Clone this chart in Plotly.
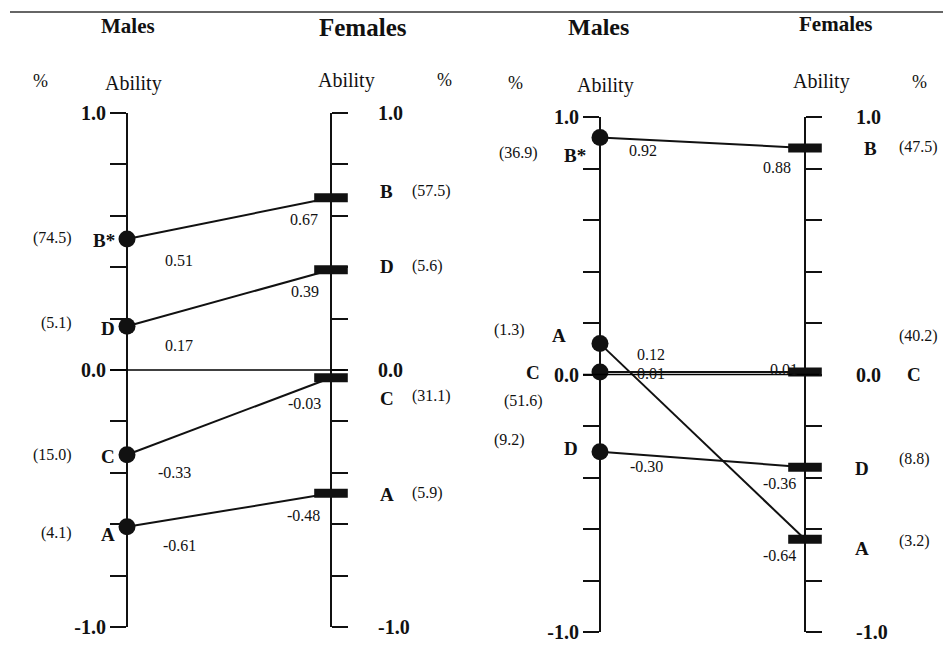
import plotly.graph_objects as go

W, H = 943, 647

# ---------------- data ----------------
groups = ["A", "B", "C", "D"]
starred = "B"

# Panel 1 (left)
p1_male_ability = [-0.61, 0.51, -0.33, 0.17]
p1_male_pct = [4.1, 74.5, 15.0, 5.1]
p1_female_ability = [-0.48, 0.67, -0.03, 0.39]
p1_female_pct = [5.9, 57.5, 31.1, 5.6]

# Panel 2 (right)
p2_male_ability = [0.12, 0.92, 0.01, -0.30]
p2_male_pct = [1.3, 36.9, 51.6, 9.2]
p2_female_ability = [-0.64, 0.88, 0.01, -0.36]
p2_female_pct = [3.2, 47.5, 40.2, 8.8]

tick_vals = [-1.0, -0.8, -0.6, -0.4, -0.2, 0.0, 0.2, 0.4, 0.6, 0.8, 1.0]
tick_labels = {-1.0: "-1.0", 0.0: "0.0", 1.0: "1.0"}

# ---------------- styling / placement ----------------
FONT = "Liberation Serif, Times New Roman, serif"
INK = "#111111"

panels = [
    dict(male_x=127, fem_x=331, top=113, bot=627, xdom=(0.0, 0.5),
         xa="x", ya="y", ya_f="y2",
         male=p1_male_ability, mpct=p1_male_pct,
         fem=p1_female_ability, fpct=p1_female_pct,
         fem_standoff=26, male_standoff=0),
    dict(male_x=600, fem_x=805, top=117, bot=632, xdom=(0.5, 1.0),
         xa="x2", ya="y3", ya_f="y4",
         male=p2_male_ability, mpct=p2_male_pct,
         fem=p2_female_ability, fpct=p2_female_pct,
         fem_standoff=30, male_standoff=0),
]

male_place = [
    {
        "A": dict(letter=(-10, -8), pct=(-53, -6), val=(34, -19)),
        "B": dict(letter=(-10, -2), pct=(-53, 1), val=(36, -22)),
        "C": dict(letter=(-10, -2), pct=(-53, 0), val=(29, -18)),
        "D": dict(letter=(-10, -2), pct=(-53, 3), val=(36, -19)),
    },
    {
        "A": dict(letter=(-32, 8), pct=(-73, 14), val=(35, -11)),
        "B": dict(letter=(-12, -18), pct=(-60, -15), val=(27, -13)),
        "C": dict(letter=(-58, -1), pct=(-55, -29), val=(35, -2)),
        "D": dict(letter=(-20, 3), pct=(-73, 12), val=(28, -15)),
    },
]
fem_place = [
    {
        "A": dict(letter=(47, -1), pct=(79, 0), val=(-9, -22)),
        "B": dict(letter=(47, 6), pct=(79, 7), val=(-11, -22)),
        "C": dict(letter=(47, -21), pct=(79, -18), val=(-8, -26)),
        "D": dict(letter=(47, 3), pct=(79, 4), val=(-10, -22)),
    },
    {
        "A": dict(letter=(48, -9), pct=(92, -2), val=(-7, -16)),
        "B": dict(letter=(57, -1), pct=(92, 1), val=(-12, -20)),
        "C": dict(letter=(100, -3), pct=(92, 36), val=(-5, 2)),
        "D": dict(letter=(48, -1), pct=(92, 8), val=(-7, -16)),
    },
]

fig = go.Figure()
annotations = []
shapes = []
layout_axes = {}


def axis_name(ref):
    return "yaxis" if ref == "y" else "yaxis" + ref[1:]


def xaxis_name(ref):
    return "xaxis" if ref == "x" else "xaxis" + ref[1:]


for pi, P in enumerate(panels):
    d0, d1 = P["xdom"]
    px0, px1 = d0 * W, d1 * W
    unit = P["fem_x"] - P["male_x"]
    r0 = -(P["male_x"] - px0) / unit
    r1 = r0 + (px1 - px0) / unit
    layout_axes[xaxis_name(P["xa"])] = dict(domain=[d0, d1], range=[r0, r1], visible=False,
                                            anchor=P["ya"], fixedrange=True, automargin=False)
    ydom = [1 - P["bot"] / H, 1 - P["top"] / H]
    ticktext = ["<b>%s</b>" % tick_labels[v] if v in tick_labels else "" for v in tick_vals]
    common = dict(domain=ydom, range=[-1, 1], anchor="free", showgrid=False, zeroline=False,
                  showline=True, linecolor=INK, linewidth=2, ticks="outside", ticklen=16,
                  tickwidth=2, tickcolor=INK, tickvals=tick_vals, ticktext=ticktext,
                  tickfont=dict(family=FONT, size=20, color=INK), fixedrange=True,
                  automargin=False)
    layout_axes[axis_name(P["ya"])] = dict(common, side="left", position=P["male_x"] / W,
                                           ticklabelstandoff=P["male_standoff"])
    layout_axes[axis_name(P["ya_f"])] = dict(common, side="right", position=P["fem_x"] / W,
                                             overlaying=P["ya"],
                                             ticklabelstandoff=P["fem_standoff"])

    shapes.append(dict(type="line", xref=P["xa"], yref=P["ya"], x0=-0.083, x1=1.07, y0=0, y1=0,
                       line=dict(color="#000000", width=1.5)))

    for gi, g in enumerate(groups):
        m, f = P["male"][gi], P["fem"][gi]
        fig.add_trace(go.Scatter(x=[0, 1], y=[m, f], mode="lines", xaxis=P["xa"], yaxis=P["ya"],
                                 line=dict(color=INK, width=2), showlegend=False, hoverinfo="skip"))
        fig.add_trace(go.Scatter(x=[0], y=[m], mode="markers", xaxis=P["xa"], yaxis=P["ya"],
                                 marker=dict(symbol="circle", size=17, color=INK),
                                 showlegend=False, hoverinfo="skip"))
        fig.add_trace(go.Scatter(x=[1], y=[f], mode="markers", xaxis=P["xa"], yaxis=P["ya_f"],
                                 marker=dict(symbol="line-ew", size=24,
                                             line=dict(color=INK, width=9)),
                                 showlegend=False, hoverinfo="skip", cliponaxis=False))

        mp = male_place[pi][g]
        fp = fem_place[pi][g]
        letter = g + ("*" if g == starred else "")

        def ann(text, xv, yv, off, anchor, size, bold=False):
            annotations.append(dict(
                text=("<b>%s</b>" % text) if bold else text, x=xv, y=yv,
                xref=P["xa"], yref=P["ya"], xshift=off[0], yshift=off[1],
                xanchor=anchor, yanchor="middle", showarrow=False,
                font=dict(family=FONT, size=size, color=INK)))

        ann(letter, 0, m, mp["letter"], "right", 19, True)
        ann("(%.1f)" % P["mpct"][gi], 0, m, mp["pct"], "right", 16)
        ann("%.2f" % m, 0, m, mp["val"], "left", 16)
        ann(g, 1, f, fp["letter"], "left", 19, True)
        ann("(%.1f)" % P["fpct"][gi], 1, f, fp["pct"], "left", 16)
        ann("%.2f" % f, 1, f, fp["val"], "right", 16)

headers = [
    ("<b>Males</b>", 128, 26, 21), ("<b>Females</b>", 363, 28, 25),
    ("%", 40, 81, 18), ("Ability", 133, 83, 20), ("Ability", 346, 80, 20), ("%", 444, 80, 18),
    ("<b>Males</b>", 598, 27, 24), ("<b>Females</b>", 835, 24, 21),
    ("%", 515, 83, 18), ("Ability", 605, 85, 20), ("Ability", 821, 82, 20), ("%", 919, 82, 18),
]
for text, px, py, size in headers:
    annotations.append(dict(text=text, x=px / W, y=1 - py / H, xref="paper", yref="paper",
                            xanchor="center", yanchor="middle", showarrow=False,
                            font=dict(family=FONT, size=size, color=INK)))

shapes.append(dict(type="line", xref="paper", yref="paper", x0=10 / W, x1=1, y0=1 - 12 / H,
                   y1=1 - 12 / H, line=dict(color="#333333", width=1.5)))

fig.update_layout(
    width=W, height=H, margin=dict(l=0, r=0, t=0, b=0, autoexpand=False),
    paper_bgcolor="white", plot_bgcolor="rgba(0,0,0,0)",
    showlegend=False, annotations=annotations, shapes=shapes,
    **layout_axes,
)

fig.write_html("out.html", config={"displayModeBar": False})
